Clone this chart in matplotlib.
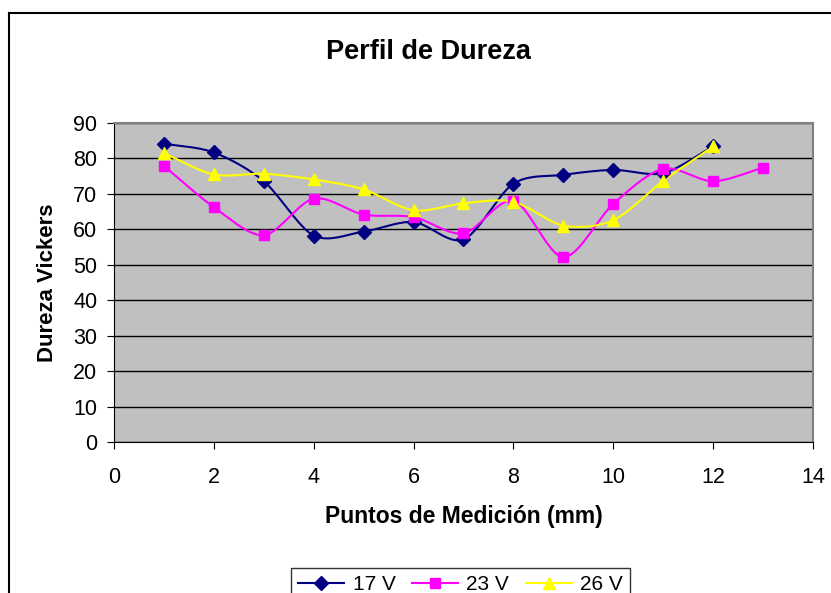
import numpy as np
import matplotlib
matplotlib.use("Agg")
import matplotlib.pyplot as plt
from matplotlib.lines import Line2D

plt.rcParams['font.family'] = ['Liberation Sans', 'DejaVu Sans']

# datos
puntos_17 = [1, 2, 3, 4, 5, 6, 7, 8, 9, 10, 11, 12]
dureza_17 = [84.1, 81.6, 73.5, 58.2, 59.3, 62.0, 57.1, 72.8, 75.3, 76.7, 75.8, 83.3]
puntos_23 = [1, 2, 3, 4, 5, 6, 7, 8, 9, 10, 11, 12, 13]
dureza_23 = [77.8, 66.2, 58.3, 68.6, 64.1, 63.4, 58.8, 68.0, 52.1, 67.1, 77.0, 73.5, 77.3]
puntos_26 = [1, 2, 3, 4, 5, 6, 7, 8, 9, 10, 11, 12]
dureza_26 = [81.4, 75.4, 75.6, 74.0, 71.2, 65.3, 67.3, 67.7, 61.0, 62.5, 73.6, 83.3]

series = [
    ("17 V", puntos_17, dureza_17, "#000080", "D", 7),
    ("23 V", puntos_23, dureza_23, "#FF00FF", "s", 7),
    ("26 V", puntos_26, dureza_26, "#FFFF00", "^", 8.5),
]


def suavizar(x, y, n=20):
    """Curva suave tipo Excel (Catmull-Rom) que pasa por los puntos."""
    x = np.asarray(x, float)
    y = np.asarray(y, float)
    px = np.concatenate([[2 * x[0] - x[1]], x, [2 * x[-1] - x[-2]]])
    py = np.concatenate([[2 * y[0] - y[1]], y, [2 * y[-1] - y[-2]]])
    xs, ys = [], []
    t = np.linspace(0, 1, n)
    for i in range(1, len(px) - 2):
        for p, out in ((px, xs), (py, ys)):
            p0, p1, p2, p3 = p[i - 1], p[i], p[i + 1], p[i + 2]
            m1 = (p2 - p0) / 2 * 0.9
            m2 = (p3 - p1) / 2 * 0.9
            h00 = 2 * t**3 - 3 * t**2 + 1
            h10 = t**3 - 2 * t**2 + t
            h01 = -2 * t**3 + 3 * t**2
            h11 = t**3 - t**2
            out.extend(h00 * p1 + h10 * m1 + h01 * p2 + h11 * m2)
    return np.array(xs), np.array(ys)


fig = plt.figure(figsize=(8.31, 5.93), dpi=100)
ax = fig.add_axes([0.1372, 0.2546, 0.8411, 0.5385])
ax.set_facecolor("#C0C0C0")

for nombre, xs, ys, color, marca, tam in series:
    sx, sy = suavizar(xs, ys)
    ax.plot(sx, sy, color=color, lw=1.5, zorder=3)
    ax.plot(xs, ys, ls="none", marker=marca, color=color, ms=tam, zorder=4)

ax.set_xlim(0, 14)
ax.set_ylim(0, 90)
ax.set_xticks(range(0, 15, 2))
ax.set_yticks(range(0, 91, 10))
ax.grid(axis="y", color="black", lw=1)
ax.set_axisbelow(True)
ax.tick_params(labelsize=15.5, length=5, color="black", direction="out")
ax.tick_params(axis="x", pad=13)
ax.tick_params(axis="y", pad=7)
for lado in ("top", "right"):
    ax.spines[lado].set_color("#808080")
    ax.spines[lado].set_linewidth(1.5)
for lado in ("left", "bottom"):
    ax.spines[lado].set_color("black")

ax.set_xlabel("Puntos de Medición (mm)", fontsize=16.5, fontweight="bold", va="center")
ax.xaxis.set_label_coords(0.5, -74 / 319.3)
ax.set_ylabel("Dureza Vickers", fontsize=16, fontweight="bold", va="center")
ax.yaxis.set_label_coords(-67 / 699, 0.498)
fig.text(428 / 831, 1 - 52 / 593, "Perfil de Dureza", fontsize=19.5, fontweight="bold",
         ha="center", va="center")

handles = [Line2D([0], [0], color=c, marker=m, ms=t, lw=1.5) for _, _, _, c, m, t in series]
labels = [s[0] for s in series]
leg = fig.legend(handles, labels, loc="upper center", bbox_to_anchor=(460.5 / 831, 1 - 568 / 593),
                 ncol=3, frameon=True, fancybox=False, fontsize=15, handlelength=2.2,
                 columnspacing=0.8, handletextpad=0.4, borderaxespad=0, borderpad=0.35)
leg.get_frame().set_edgecolor("black")
leg.get_frame().set_linewidth(1)

# borde del area del grafico (solo se ven izquierdo y superior)
fig.add_artist(Line2D([9 / 831, 9 / 831], [0, 1 - 13 / 593], color="black", lw=1.5,
                      transform=fig.transFigure))
fig.add_artist(Line2D([9 / 831, 1], [1 - 13 / 593, 1 - 13 / 593], color="black", lw=1.5,
                      transform=fig.transFigure))

fig.savefig("out.png", dpi=100)
